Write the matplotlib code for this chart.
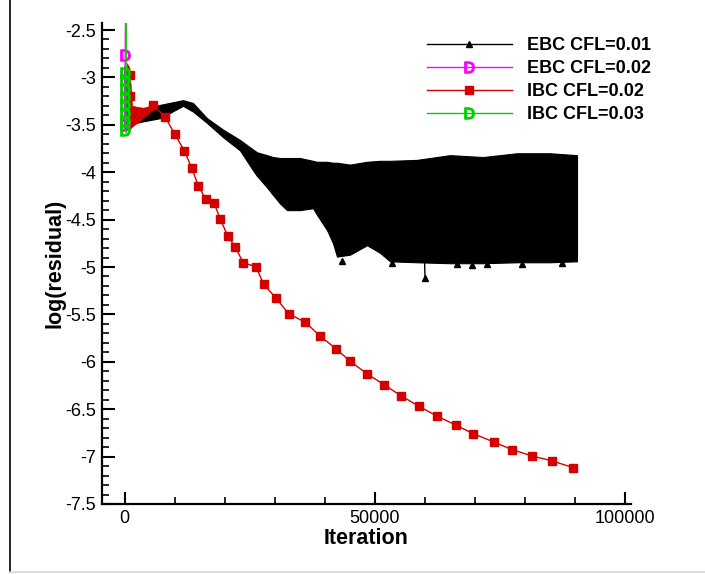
import matplotlib
matplotlib.use('Agg')
import matplotlib.pyplot as plt
from matplotlib.ticker import MultipleLocator, FuncFormatter
from matplotlib.lines import Line2D

plt.rcParams['font.family'] = ['Liberation Sans', 'DejaVu Sans']
plt.rcParams['axes.unicode_minus'] = False

# EBC CFL=0.01 : dense oscillating residual, kept as upper / lower envelope
ebc1_it = [0, 800, 3100, 7100, 11700, 13700, 16500, 19700, 23100, 25700, 26500, 28500,
           29700, 31100, 32500, 35100, 37700, 38500, 40500, 41700, 42500, 45100, 48500,
           51100, 53100, 58500, 65100, 71700, 78500, 85100, 90500]
ebc1_hi = [-2.88, -3.38, -3.34, -3.29, -3.24, -3.27, -3.43, -3.55, -3.66, -3.76, -3.79, -3.82,
           -3.84, -3.85, -3.85, -3.85, -3.88, -3.89, -3.89, -3.90, -3.90, -3.92, -3.89,
           -3.88, -3.88, -3.87, -3.82, -3.84, -3.80, -3.80, -3.82]
ebc1_lo = [-3.55, -3.50, -3.47, -3.43, -3.30, -3.36, -3.48, -3.63, -3.77, -3.98, -4.04, -4.16,
           -4.24, -4.33, -4.40, -4.40, -4.38, -4.45, -4.61, -4.75, -4.89, -4.87, -4.77,
           -4.85, -4.94, -4.95, -4.96, -4.96, -4.95, -4.95, -4.94]
ebc1_mk_it = [43500, 53500, 60100, 66500, 69500, 72500, 79500, 87500]
ebc1_mk_v = [-4.94, -4.96, -5.12, -4.97, -4.98, -4.97, -4.97, -4.96]
ebc1_spike_it = [60000, 60100]
ebc1_spike_v = [-4.90, -5.12]

# EBC CFL=0.02 : diverges right away
ebc2_it = [0, 150, 250]
ebc2_v = [-3.50, -2.76, -2.00]

# IBC CFL=0.02
ibc2_band_it = [500, 1000, 1500, 3700, 5200, 6000]
ibc2_band_hi = [-2.85, -2.90, -3.30, -3.32, -3.30, -3.32]
ibc2_band_lo = [-3.55, -3.55, -3.52, -3.43, -3.36, -3.33]
ibc2_it = [1000, 1000, 5640, 8100, 10040, 11960, 13440, 14760, 16240, 17900, 19160, 20640,
           22100, 23760, 26300, 27840, 30300, 32840, 36160, 39100, 42300, 45160, 48560,
           51960, 55360, 58900, 62400, 66240, 69760, 73840, 77560, 81560, 85560, 89760]
ibc2_v = [-2.97, -3.20, -3.29, -3.415, -3.597, -3.773, -3.953, -4.142, -4.286, -4.322, -4.497,
          -4.670, -4.786, -4.955, -4.997, -5.183, -5.327, -5.493, -5.583, -5.728, -5.862,
          -5.995, -6.129, -6.242, -6.361, -6.469, -6.570, -6.667, -6.758, -6.846, -6.927,
          -6.994, -7.046, -7.117]

# IBC CFL=0.03 : diverges right away
ibc3_it = [0, 0, 0, 0, 0, 0, 0, 0, 300, 320]
ibc3_v = [-3.55, -3.46, -3.38, -3.29, -3.21, -3.12, -3.03, -2.95, -3.58, -2.30]

labels = ['EBC CFL=0.01', 'EBC CFL=0.02', 'IBC CFL=0.02', 'IBC CFL=0.03']
c_black, c_mag, c_red, c_green = 'black', '#ff00ff', '#d40000', '#00d000'
d_marker = r'$\mathsf{D}$'

fig = plt.figure(figsize=(7.05, 5.74), dpi=100)
ax = fig.add_axes([101.6 / 705, 70 / 574, (631 - 101.6) / 705, (504 - 23) / 574])

# black band
ax.fill_between(ebc1_it, ebc1_lo, ebc1_hi, color=c_black, lw=0.8, zorder=2)
ax.plot(ebc1_spike_it, ebc1_spike_v, color=c_black, lw=1, zorder=2)
ax.plot(ebc1_mk_it, ebc1_mk_v, ls='none', marker='^', ms=5, color=c_black, zorder=2)

# red
ax.fill_between(ibc2_band_it, ibc2_band_lo, ibc2_band_hi, color=c_red, lw=0.5, zorder=3)
ax.plot(ibc2_it[2:], ibc2_v[2:], color=c_red, lw=1, marker='s', ms=6, zorder=3)
ax.plot(ibc2_it[:2], ibc2_v[:2], ls='none', marker='s', ms=6, color=c_red, zorder=3)

# magenta and green
ax.plot(ebc2_it, ebc2_v, color=c_mag, lw=1, marker=d_marker, ms=8, zorder=4)
ax.plot(ibc3_it[-2:], ibc3_v[-2:], color=c_green, lw=1.2, zorder=5)
ax.plot(ibc3_it[:-2], ibc3_v[:-2], ls='none', marker=d_marker, ms=8, color=c_green, zorder=5)

ax.set_xlim(-4580, 101300)
ax.set_ylim(-7.5, -2.426)

for s in ['top', 'right']:
    ax.spines[s].set_visible(False)
for s in ['left', 'bottom']:
    ax.spines[s].set_linewidth(1.6)

ax.xaxis.set_major_locator(MultipleLocator(50000))
ax.xaxis.set_minor_locator(MultipleLocator(10000))
ax.yaxis.set_major_locator(MultipleLocator(0.5))
ax.yaxis.set_minor_locator(MultipleLocator(0.1))
ax.xaxis.set_major_formatter(FuncFormatter(lambda v, p: '%d' % round(v)))
ax.yaxis.set_major_formatter(FuncFormatter(lambda v, p: '%g' % v))
ax.tick_params(which='major', direction='in', length=9, width=1.5, labelsize=13, pad=4)
ax.tick_params(which='minor', direction='in', length=5, width=1.2)

ax.set_xlabel('Iteration', fontsize=15.5, fontweight='bold', labelpad=1)
ax.set_ylabel('log(residual)', fontsize=15.5, fontweight='bold', labelpad=0)

handles = [
    Line2D([], [], color=c_black, lw=1, marker='^', ms=5),
    Line2D([], [], color=c_mag, lw=1, marker=d_marker, ms=8),
    Line2D([], [], color=c_red, lw=1, marker='s', ms=6),
    Line2D([], [], color=c_green, lw=1, marker=d_marker, ms=8),
]
leg = ax.legend(handles, labels, loc='upper left', bbox_to_anchor=(427 / 705, 1 - 37 / 574),
                bbox_transform=fig.transFigure, frameon=False, numpoints=1,
                handlelength=4.7, handletextpad=0.83, labelspacing=0.33,
                borderpad=0, borderaxespad=0, prop={'weight': 'bold', 'size': 13})

# page frame
fig.add_artist(Line2D([10 / 705, 10 / 705], [1.0, 1 - 572 / 574], color='black', lw=1.2))
fig.add_artist(Line2D([10 / 705, 1.0], [1 - 572 / 574, 1 - 572 / 574], color='#d8d8d8', lw=1.2))

fig.savefig('out.png', dpi=100)
